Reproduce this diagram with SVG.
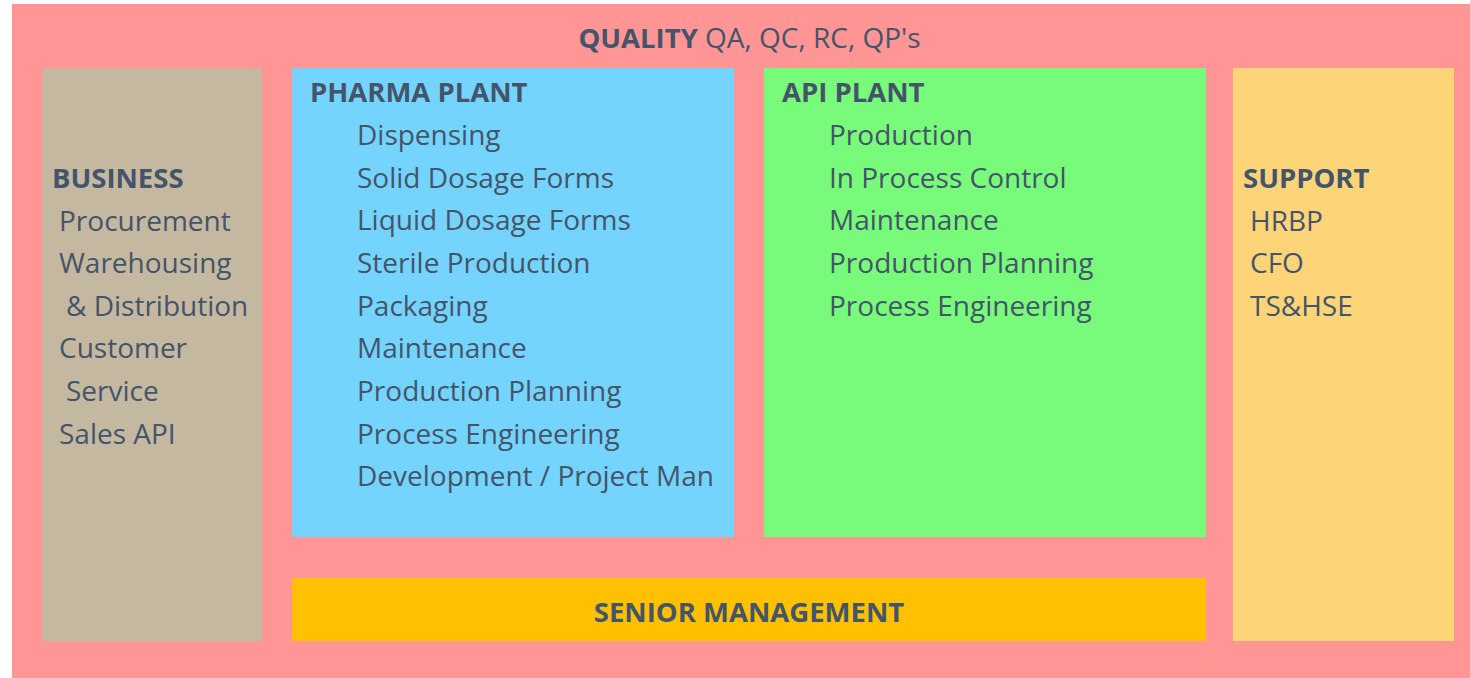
<svg xmlns="http://www.w3.org/2000/svg" width="1470" height="678" viewBox="0 0 1470 678">
<style>
text{font-family:"Open Sans","Noto Sans","DejaVu Sans",sans-serif;fill:#44546A;font-size:28px}
.b{font-weight:bold;font-size:27.5px}
</style>
<rect x="0" y="0" width="1470" height="678" fill="#FFFFFF"/>
<g id="quality">
<rect x="12" y="4" width="1458" height="674" fill="#FF9595"/>
<text x="749.5" y="48" text-anchor="middle"><tspan class="b">QUALITY</tspan> QA, QC, RC, QP's</text>
</g>
<g id="business">
<rect x="42" y="68" width="220" height="573" fill="#C4B8A0"/>
<text class="b" x="52" y="188">BUSINESS</text>
<text x="59" y="231">Procurement</text>
<text x="59" y="273">Warehousing</text>
<text x="66" y="316">&amp; Distribution</text>
<text x="59" y="358">Customer</text>
<text x="66" y="401">Service</text>
<text x="59" y="444">Sales API</text>
</g>
<g id="pharma">
<rect x="292" y="68" width="442" height="469" fill="#75D4FE"/>
<text class="b" x="310" y="102">PHARMA PLANT</text>
<text x="357" y="145">Dispensing</text>
<text x="357" y="188">Solid Dosage Forms</text>
<text x="357" y="230">Liquid Dosage Forms</text>
<text x="357" y="273">Sterile Production</text>
<text x="357" y="316">Packaging</text>
<text x="357" y="358">Maintenance</text>
<text x="357" y="401">Production Planning</text>
<text x="357" y="444">Process Engineering</text>
<text x="357" y="486">Development / Project Man</text>
</g>
<g id="api">
<rect x="764" y="68" width="442" height="469" fill="#78FB7A"/>
<text class="b" x="782" y="102">API PLANT</text>
<text x="829" y="145">Production</text>
<text x="829" y="188">In Process Control</text>
<text x="829" y="230">Maintenance</text>
<text x="829" y="273">Production Planning</text>
<text x="829" y="316">Process Engineering</text>
</g>
<g id="support">
<rect x="1233" y="68" width="221" height="573" fill="#FED479"/>
<text class="b" x="1243" y="188">SUPPORT</text>
<text x="1250" y="231">HRBP</text>
<text x="1250" y="273">CFO</text>
<text x="1250" y="316">TS&amp;HSE</text>
</g>
<g id="senior">
<rect x="292" y="578" width="914" height="63" fill="#FFC000"/>
<text class="b" x="749" y="622" text-anchor="middle">SENIOR MANAGEMENT</text>
</g>
<g id="connectors"/>
</svg>
